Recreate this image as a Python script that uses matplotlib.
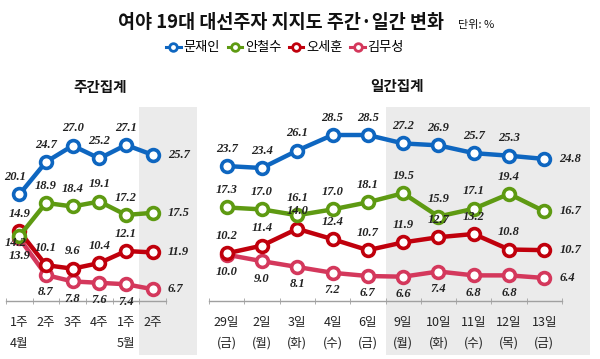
import matplotlib
matplotlib.use("Agg")
import matplotlib.pyplot as plt
from matplotlib.lines import Line2D
from matplotlib.patches import Rectangle
from matplotlib.transforms import blended_transform_factory

plt.rcParams['font.family'] = ['Noto Sans CJK KR', 'DejaVu Sans']

# ---------------- data ----------------
series_names = ['문재인', '안철수', '오세훈', '김무성']

week_labels = ['1주\n4월', '2주', '3주', '4주', '1주\n5월', '2주']
week_moon = [20.1, 24.7, 27.0, 25.2, 27.1, 25.7]
week_ahn = [14.2, 18.9, 18.4, 19.1, 17.2, 17.5]
week_oh = [14.9, 10.1, 9.6, 10.4, 12.1, 11.9]
week_kim = [13.9, 8.7, 7.8, 7.6, 7.4, 6.7]

day_labels = ['29일\n(금)', '2일\n(월)', '3일\n(화)', '4일\n(수)', '6일\n(금)',
              '9일\n(월)', '10일\n(화)', '11일\n(수)', '12일\n(목)', '13일\n(금)']
day_moon = [23.7, 23.4, 26.1, 28.5, 28.5, 27.2, 26.9, 25.7, 25.3, 24.8]
day_ahn = [17.3, 17.0, 16.1, 17.0, 18.1, 19.5, 15.9, 17.1, 19.4, 16.7]
day_oh = [10.2, 11.4, 14.0, 12.4, 10.7, 11.9, 12.7, 13.2, 10.8, 10.7]
day_kim = [10.0, 9.0, 8.1, 7.2, 6.7, 6.6, 7.4, 6.8, 6.8, 6.4]

colors = ['#0E66C0', '#5E9A12', '#C0000C', '#D4385C']

W, H = 600, 359
fig = plt.figure(figsize=(W / 100, H / 100), dpi=100)


def add_axes_px(x0, y0, x1, y1):
    return fig.add_axes([x0 / W, 1 - y1 / H, (x1 - x0) / W, (y1 - y0) / H])


def style_axis(ax, labels, ylim):
    n = len(labels)
    ax.set_xlim(-0.5, n - 0.5)
    ax.set_ylim(*ylim)
    for s in ['left', 'right', 'top']:
        ax.spines[s].set_visible(False)
    ax.spines['bottom'].set_color('#A0A0A0')
    ax.spines['bottom'].set_linewidth(1.0)
    ax.patch.set_alpha(0)
    ax.set_yticks([])
    ax.set_xticks(range(n))
    ax.set_xticklabels(labels, fontsize=9, linespacing=1.75, color='#222222')
    ax.tick_params(axis='x', which='major', length=0, pad=11)
    ax.set_xticks([i - 0.5 for i in range(n + 1)], minor=True)
    ax.tick_params(axis='x', which='minor', length=4, color='#A0A0A0', direction='inout')


def shade(ax, x_start, x_end):
    tr = blended_transform_factory(ax.transData, fig.transFigure)
    r = Rectangle((x_start, 1 - 355 / H), x_end - x_start, (355 - 107) / H,
                  transform=tr, facecolor='#EBEBEB', edgecolor='none', zorder=0,
                  clip_on=False)
    ax.add_artist(r)


def draw_series(ax, vals, color, offsets, last_right=True, z=3):
    x = list(range(len(vals)))
    ax.plot(x, vals, color=color, lw=3.2, marker='o', ms=8.5, mfc='white',
            mec=color, mew=2.6, zorder=z, clip_on=False, solid_capstyle='round')
    for i, v in enumerate(vals):
        if last_right and i == len(vals) - 1:
            ax.annotate(f'{v:.1f}', (i, v), xytext=(11, 0), textcoords='offset points',
                        ha='left', va='center', fontsize=9, fontstyle='italic',
                        fontfamily='Liberation Serif', fontweight='bold', color='#222222',
                        zorder=6)
        else:
            dx, dy = offsets[i]
            ax.annotate(f'{v:.1f}', (i, v), xytext=(dx, dy), textcoords='offset points',
                        ha='center', va='center', fontsize=9, fontstyle='italic',
                        fontfamily='Liberation Serif', fontweight='bold', color='#222222',
                        zorder=6)


# ---------------- weekly panel ----------------
axL = add_axes_px(6, 107, 166, 301)
style_axis(axL, week_labels, (5.03, 32.47))
shade(axL, 4.5, 6.66)
up = (0, 12.5)
down = (0, -12.5)
draw_series(axL, week_kim, colors[3], [down] * 6, z=3)
draw_series(axL, week_oh, colors[2], [up] * 6, z=4)
draw_series(axL, week_ahn, colors[1], [(-3, -5)] + [up] * 5, z=5)
draw_series(axL, week_moon, colors[0], [(-3, 12.5)] + [up] * 5, z=5)
fig.text(100 / W, 1 - 87 / H, '주간집계', fontsize=10.5, fontweight='bold',
         ha='center', va='center', color='#111111')

# ---------------- daily panel ----------------
axR = add_axes_px(209, 107, 562, 301)
style_axis(axR, day_labels, (2.84, 32.83))
shade(axR, 4.5, 10.3)
draw_series(axR, day_kim, colors[3], [down] * 10, z=3)
draw_series(axR, day_oh, colors[2], [up] * 10, z=4)
draw_series(axR, day_ahn, colors[1], [up] * 10, z=5)
draw_series(axR, day_moon, colors[0], [up] * 10, z=5)
fig.text(397 / W, 1 - 86 / H, '일간집계', fontsize=10.5, fontweight='bold',
         ha='center', va='center', color='#111111')

# ---------------- title & legend ----------------
fig.text(118 / W, 1 - 23 / H, '여야 19대 대선주자 지지도 주간·일간 변화', fontsize=13.3,
         fontweight='bold', ha='left', va='center', color='#111111')
fig.text(458 / W, 1 - 25 / H, '단위: %', fontsize=8, ha='left', va='center',
         color='#111111')

handles = [Line2D([0], [0], color=c, lw=2.2, marker='o', ms=5.5, mfc='white', mec=c, mew=2)
           for c in colors]
fig.legend(handles, series_names, loc='center', bbox_to_anchor=(285 / W, 1 - 48 / H),
           ncol=4, frameon=False, handlelength=1.1, columnspacing=0.6,
           handletextpad=0.2, fontsize=9.5)

fig.savefig('out.png', dpi=100)
